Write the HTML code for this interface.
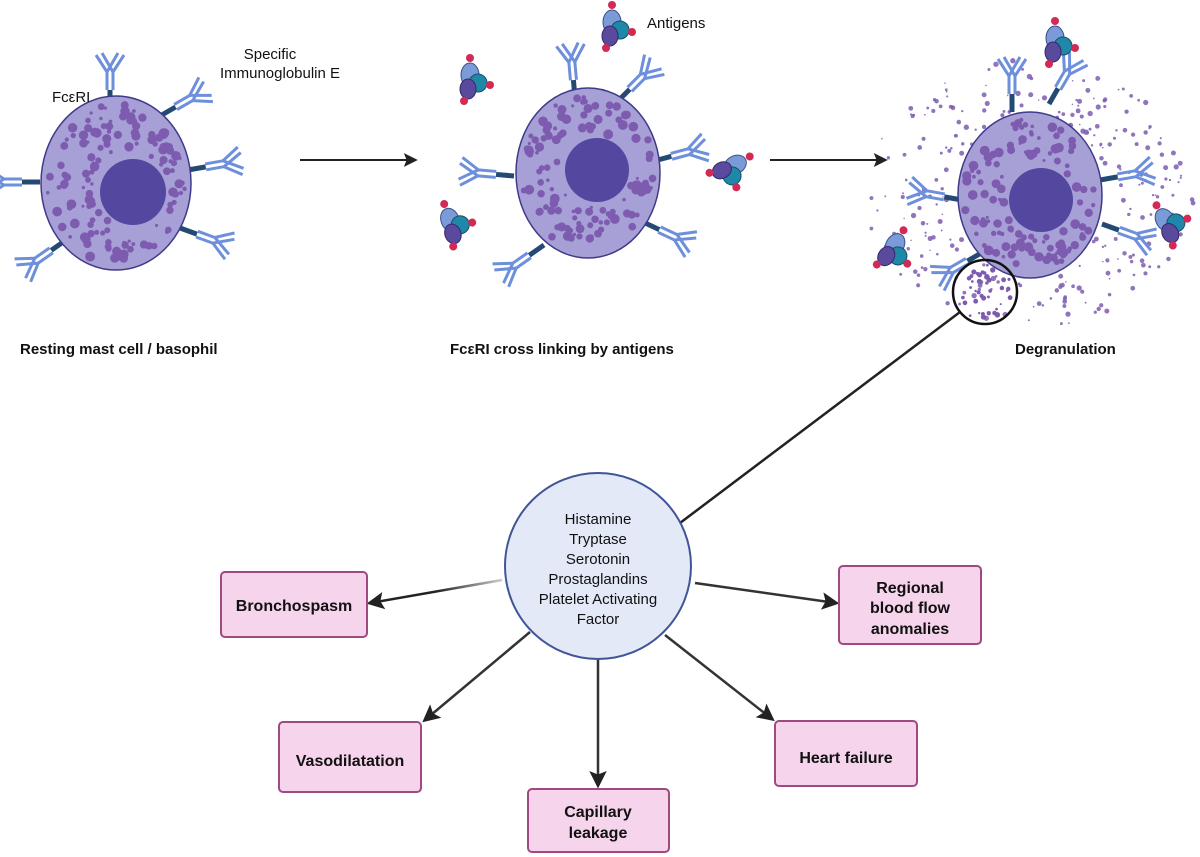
<!DOCTYPE html>
<html><head><meta charset="utf-8"><style>
html,body{margin:0;padding:0;background:#fff;}
svg{display:block;font-family:"Liberation Sans",Arial,sans-serif;}
</style></head><body>
<svg id="s" width="1200" height="857" viewBox="0 0 1200 857" xmlns="http://www.w3.org/2000/svg">
<defs>
<marker id="ar" viewBox="0 0 10 10" refX="8" refY="5" markerWidth="7" markerHeight="7" orient="auto"><path d="M0,0 L10,5 L0,10 L2,5 z" fill="#222"/></marker>
<linearGradient id="g1" x1="1" y1="0" x2="0" y2="0"><stop offset="0" stop-color="#ccc"/><stop offset="0.5" stop-color="#222"/></linearGradient>
<g id="ab">
  <line x1="0" y1="0" x2="0" y2="-18" stroke="#244a74" stroke-width="5"/>
  <g stroke="#6d8fdc" stroke-width="3" fill="none">
   <line x1="-3" y1="-18" x2="-3" y2="-36"/><line x1="3" y1="-18" x2="3" y2="-36"/>
   <line x1="-3" y1="-36" x2="-14" y2="-53"/><line x1="3" y1="-36" x2="-8" y2="-55"/>
   <line x1="-3" y1="-36" x2="8" y2="-55"/><line x1="3" y1="-36" x2="14" y2="-53"/>
  </g>
</g>
<g id="ag">
  <ellipse cx="0" cy="0" rx="9" ry="12" fill="#7a9ad8" stroke="#3d4f8a"/>
  <ellipse cx="8" cy="8" rx="9" ry="9" fill="#1f87a8" stroke="#1a4f6a"/>
  <ellipse cx="-2" cy="14" rx="8" ry="10" fill="#5a4a9e" stroke="#33296a"/>
  <circle cx="0" cy="-17" r="4" fill="#d02a55"/><circle cx="-6" cy="26" r="4" fill="#d02a55"/><circle cx="20" cy="10" r="4" fill="#d02a55"/>
</g>
</defs>
<g id="cells"></g>

<line x1="300" y1="160" x2="415" y2="160" stroke="#222" stroke-width="2" marker-end="url(#ar)"/>
<line x1="770" y1="160" x2="885" y2="160" stroke="#222" stroke-width="2" marker-end="url(#ar)"/>

<text x="52" y="102" font-size="15" fill="#111">FcεRI</text>
<text x="270" y="59" font-size="15" fill="#111" text-anchor="middle">Specific</text>
<text x="280" y="78" font-size="15" fill="#111" text-anchor="middle">Immunoglobulin E</text>
<text x="647" y="28" font-size="15" fill="#111">Antigens</text>

<g font-size="15" font-weight="bold" fill="#111">
<text x="20" y="354">Resting mast cell / basophil</text>
<text x="450" y="354">FcεRI cross linking by antigens</text>
<text x="1015" y="354">Degranulation</text>
</g>

<circle cx="985" cy="292" r="32" fill="none" stroke="#111" stroke-width="2.5"/>
<line x1="960" y1="312" x2="680" y2="523" stroke="#222" stroke-width="2.5"/>

<g stroke-width="2.5" fill="none">
<line x1="502" y1="580" x2="370" y2="603" stroke="url(#g1)" marker-end="url(#ar)"/>
<line x1="695" y1="583" x2="836" y2="603" stroke="#333" marker-end="url(#ar)"/>
<line x1="530" y1="632" x2="425" y2="720" stroke="#333" marker-end="url(#ar)"/>
<line x1="598" y1="650" x2="598" y2="785" stroke="#333" marker-end="url(#ar)"/>
<line x1="665" y1="635" x2="772" y2="719" stroke="#333" marker-end="url(#ar)"/>
</g>

<circle cx="598" cy="566" r="93" fill="#e3e9f7" stroke="#3f5596" stroke-width="2"/>
<g font-size="15" fill="#111" text-anchor="middle">
<text x="598" y="524">Histamine</text><text x="598" y="544">Tryptase</text><text x="598" y="564">Serotonin</text>
<text x="598" y="584">Prostaglandins</text><text x="598" y="604">Platelet Activating</text><text x="598" y="624">Factor</text>
</g>

<g fill="#f5d4ec" stroke="#9e4a80" stroke-width="2">
<rect x="221" y="572" width="146" height="65" rx="4"/>
<rect x="839" y="566" width="142" height="78" rx="4"/>
<rect x="279" y="722" width="142" height="70" rx="4"/>
<rect x="528" y="789" width="141" height="63" rx="4"/>
<rect x="775" y="721" width="142" height="65" rx="4"/>
</g>
<g font-size="16" font-weight="bold" fill="#111" text-anchor="middle">
<text x="294" y="611">Bronchospasm</text>
<text x="910" y="593">Regional</text><text x="910" y="613">blood flow</text><text x="910" y="634">anomalies</text>
<text x="350" y="766">Vasodilatation</text>
<text x="598" y="817">Capillary</text><text x="598" y="838">leakage</text>
<text x="846" y="763">Heart failure</text>
</g>
</svg>
<script>
(function(){
var NS="http://www.w3.org/2000/svg",g=document.getElementById("cells");
var seed=7;function r(){seed=(seed*16807)%2147483647;return seed/2147483647;}
function el(t,a){var e=document.createElementNS(NS,t);for(var k in a)e.setAttribute(k,a[k]);g.appendChild(e);return e;}
function cell(cx,cy,rx,ry,nx,ny,nr){
 el("ellipse",{cx:cx,cy:cy,rx:rx,ry:ry,fill:"#a7a0d6",stroke:"#3f3a8a","stroke-width":1.5});
 for(var i=0;i<170;i++){var a=r()*6.283,d=Math.sqrt(r())*0.92;var x=cx+Math.cos(a)*rx*d,y=cy+Math.sin(a)*ry*d;
  if(Math.hypot(x-nx,y-ny)<nr+5)continue;el("circle",{cx:x,cy:y,r:1.5+r()*3.5,fill:"#7d5cb0"});}
 el("circle",{cx:nx,cy:ny,r:nr,fill:"#5347a0"});
}
function ab(x,y,rot){var u=document.createElementNS(NS,"use");u.setAttribute("href","#ab");u.setAttribute("transform","translate("+x+","+y+") rotate("+rot+")");g.appendChild(u);}
function ag(x,y,rot){var u=document.createElementNS(NS,"use");u.setAttribute("href","#ag");u.setAttribute("transform","translate("+x+","+y+") rotate("+(rot||0)+")");g.appendChild(u);}
[[110,108,0],[160,116,60],[40,182,-90],[188,170,80],[66,240,-125],[180,228,110]].forEach(function(p){ab(p[0],p[1],p[2]);});
cell(116,183,75,87,133,192,33);
[[575,98,-5],[617,102,45],[514,176,-85],[654,161,75],[544,245,-125],[643,222,115]].forEach(function(p){ab(p[0],p[1],p[2]);});
cell(588,173,72,85,597,170,32);
ag(612,22,0);ag(470,75,0);ag(735,165,60);ag(450,220,-20);
for(var i=0;i<280;i++){var a=r()*6.283,d=75+r()*75;var x=1030+Math.cos(a)*d*1.1,y=195+Math.sin(a)*d*0.9;if(y<20||y>325||x>1195)continue;el("circle",{cx:x,cy:y,r:0.7+r()*2,fill:"#7d5cb0",opacity:0.85});}
[[1012,112,0],[1049,104,30],[962,200,-80],[1100,180,80],[983,252,-120],[1102,224,110]].forEach(function(p){ab(p[0],p[1],p[2]);});
cell(1030,195,72,83,1041,200,32);
for(var j=0;j<40;j++){var a2=r()*6.283,d2=Math.sqrt(r())*28;el("circle",{cx:985+Math.cos(a2)*d2,cy:292+Math.sin(a2)*d2,r:1+r()*1.8,fill:"#7d5cb0"});}
ag(1055,38,0);ag(895,245,30);ag(1165,220,-30);
})();
</script>
</body></html>
